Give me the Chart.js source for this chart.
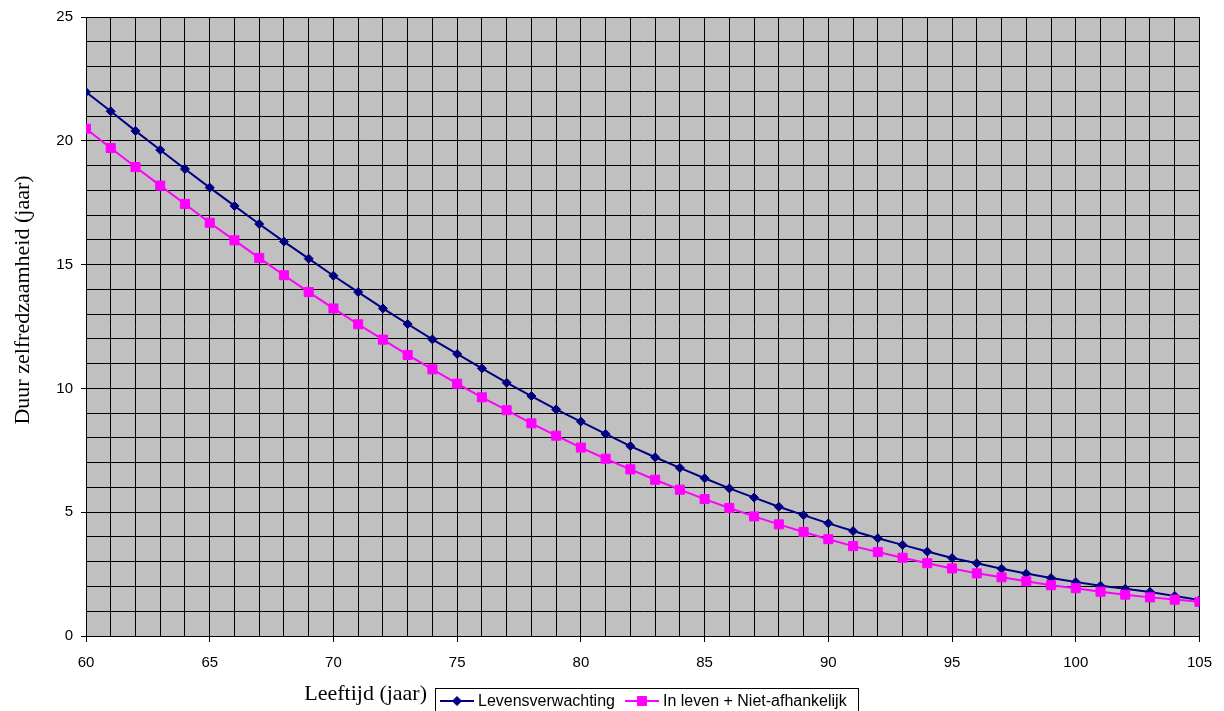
<!DOCTYPE html>
<html>
<head>
<meta charset="utf-8">
<script src="https://cdn.jsdelivr.net/npm/chart.js@4.4.1/dist/chart.umd.min.js"></script>
<style>
  body { margin: 0; background: #fff; }
  #chart { display: block; }
</style>
</head>
<body>
<canvas id="chart" width="1224" height="711"></canvas>
<script>
// Data
const ages = [60, 61, 62, 63, 64, 65, 66, 67, 68, 69, 70, 71, 72, 73, 74, 75, 76, 77, 78, 79, 80, 81, 82,
    83, 84, 85, 86, 87, 88, 89, 90, 91, 92, 93, 94, 95, 96, 97, 98, 99, 100, 101, 102, 103, 104, 105];

const levensverwachting = [21.97, 21.19, 20.40, 19.63, 18.86, 18.11, 17.37, 16.64, 15.93, 15.24,
    14.55, 13.89, 13.23, 12.60, 11.98, 11.39, 10.81, 10.23, 9.69, 9.15,
    8.66, 8.16, 7.67, 7.22, 6.79, 6.37, 5.96, 5.59, 5.22, 4.88,
    4.55, 4.24, 3.95, 3.68, 3.41, 3.15, 2.94, 2.72, 2.52, 2.34,
    2.18, 2.03, 1.91, 1.78, 1.62, 1.45];

const inLevenNietAfhankelijk = [20.49, 19.71, 18.94, 18.19, 17.45, 16.69, 15.98, 15.27, 14.57, 13.89,
    13.23, 12.59, 11.97, 11.35, 10.77, 10.19, 9.64, 9.12, 8.59, 8.09,
    7.61, 7.16, 6.73, 6.31, 5.91, 5.53, 5.17, 4.83, 4.51, 4.20,
    3.91, 3.63, 3.39, 3.16, 2.94, 2.73, 2.53, 2.37, 2.21, 2.05,
    1.93, 1.79, 1.67, 1.56, 1.47, 1.38];

const seriesNames = ['Levensverwachting', 'In leven + Niet-afhankelijk'];
const xTitle = 'Leeftijd (jaar)';
const yTitle = 'Duur zelfredzaamheid (jaar)';

const NAVY = '#000080';
const MAGENTA = '#ff00ff';

function toPoints(values) {
    return ages.map((a, i) => ({ x: a, y: values[i] }));
}

// Gray plot area, axis titles and the boxed legend at the bottom
const frame = {
    id: 'frame',
    beforeDraw(chart) {
        const a = chart.chartArea;
        const ctx = chart.ctx;
        ctx.save();
        ctx.fillStyle = '#c0c0c0';
        ctx.fillRect(a.left, a.top, a.right - a.left, a.bottom - a.top);
        ctx.restore();
    },
    afterDraw(chart) {
        const ctx = chart.ctx;
        ctx.save();
        ctx.fillStyle = '#000';

        // y title
        ctx.font = '22px "Liberation Serif", "Times New Roman", serif';
        ctx.textAlign = 'center';
        ctx.textBaseline = 'middle';
        ctx.translate(23, 300);
        ctx.rotate(-Math.PI / 2);
        ctx.fillText(yTitle, 0, 0);
        ctx.setTransform(1, 0, 0, 1, 0, 0);

        // x title
        ctx.textAlign = 'right';
        ctx.fillText(xTitle, 427, 694);

        // legend box
        ctx.fillStyle = '#fff';
        ctx.fillRect(435, 688, 423, 23);
        ctx.strokeStyle = '#000';
        ctx.lineWidth = 1;
        ctx.strokeRect(435.5, 688.5, 423, 24);

        const items = [
            { x0: 440, x1: 474, tx: 478, color: NAVY, style: 'rectRot', r: 4.5 },
            { x0: 625, x1: 659, tx: 663, color: MAGENTA, style: 'rect', r: 6.4 }
        ];
        ctx.font = '16px "Liberation Sans", Arial, sans-serif';
        ctx.textAlign = 'left';
        items.forEach((it, i) => {
            const y = 701;
            ctx.strokeStyle = it.color;
            ctx.lineWidth = 2;
            ctx.beginPath();
            ctx.moveTo(it.x0, y);
            ctx.lineTo(it.x1, y);
            ctx.stroke();
            ctx.fillStyle = it.color;
            ctx.lineWidth = 1;
            Chart.helpers.drawPoint(ctx, { pointStyle: it.style, radius: it.r, borderWidth: 1, rotation: 0 },
                (it.x0 + it.x1) / 2, y);
            ctx.fillStyle = '#000';
            ctx.fillText(seriesNames[i], it.tx, y + 1);
        });
        ctx.restore();
    }
};

const tickFont = { family: '"Liberation Sans", Arial, sans-serif', size: 15 };

new Chart(document.getElementById('chart'), {
    type: 'line',
    data: {
        datasets: [
            {
                label: seriesNames[0],
                data: toPoints(levensverwachting),
                borderColor: NAVY,
                backgroundColor: NAVY,
                borderWidth: 2,
                pointStyle: 'rectRot',
                pointRadius: 4.5,
                pointBorderWidth: 1,
                tension: 0,
                order: 1
            },
            {
                label: seriesNames[1],
                data: toPoints(inLevenNietAfhankelijk),
                borderColor: MAGENTA,
                backgroundColor: MAGENTA,
                borderWidth: 2,
                pointStyle: 'rect',
                pointRadius: 6.4,
                pointBorderWidth: 1,
                tension: 0,
                order: 0
            }
        ]
    },
    options: {
        responsive: false,
        animation: false,
        layout: { padding: { left: 0, right: 17, top: 17, bottom: 0 } },
        plugins: {
            legend: { display: false },
            tooltip: { enabled: false }
        },
        scales: {
            x: {
                type: 'linear',
                min: 60,
                max: 105,
                afterFit(scale) { scale.height = 75; },
                border: { color: '#000', width: 1 },
                grid: {
                    color: '#000',
                    lineWidth: 1,
                    tickLength: 6,
                    tickColor: ctx => (ctx.tick && ctx.tick.value % 5 === 0) ? '#000' : 'rgba(0,0,0,0)'
                },
                ticks: {
                    stepSize: 1,
                    autoSkip: false,
                    maxRotation: 0,
                    padding: 12,
                    color: '#000',
                    font: tickFont,
                    callback: v => (v % 5 === 0 ? v : '')
                }
            },
            y: {
                min: 0,
                max: 25,
                afterFit(scale) { scale.width = 86; },
                border: { color: '#000', width: 1 },
                grid: {
                    color: '#000',
                    lineWidth: 1,
                    tickLength: 5,
                    tickColor: ctx => (ctx.tick && ctx.tick.value % 5 === 0) ? '#000' : 'rgba(0,0,0,0)'
                },
                ticks: {
                    stepSize: 1,
                    autoSkip: false,
                    padding: 8,
                    color: '#000',
                    font: tickFont,
                    callback: v => (v % 5 === 0 ? v : '')
                }
            }
        }
    },
    plugins: [frame]
});
</script>
</body>
</html>
